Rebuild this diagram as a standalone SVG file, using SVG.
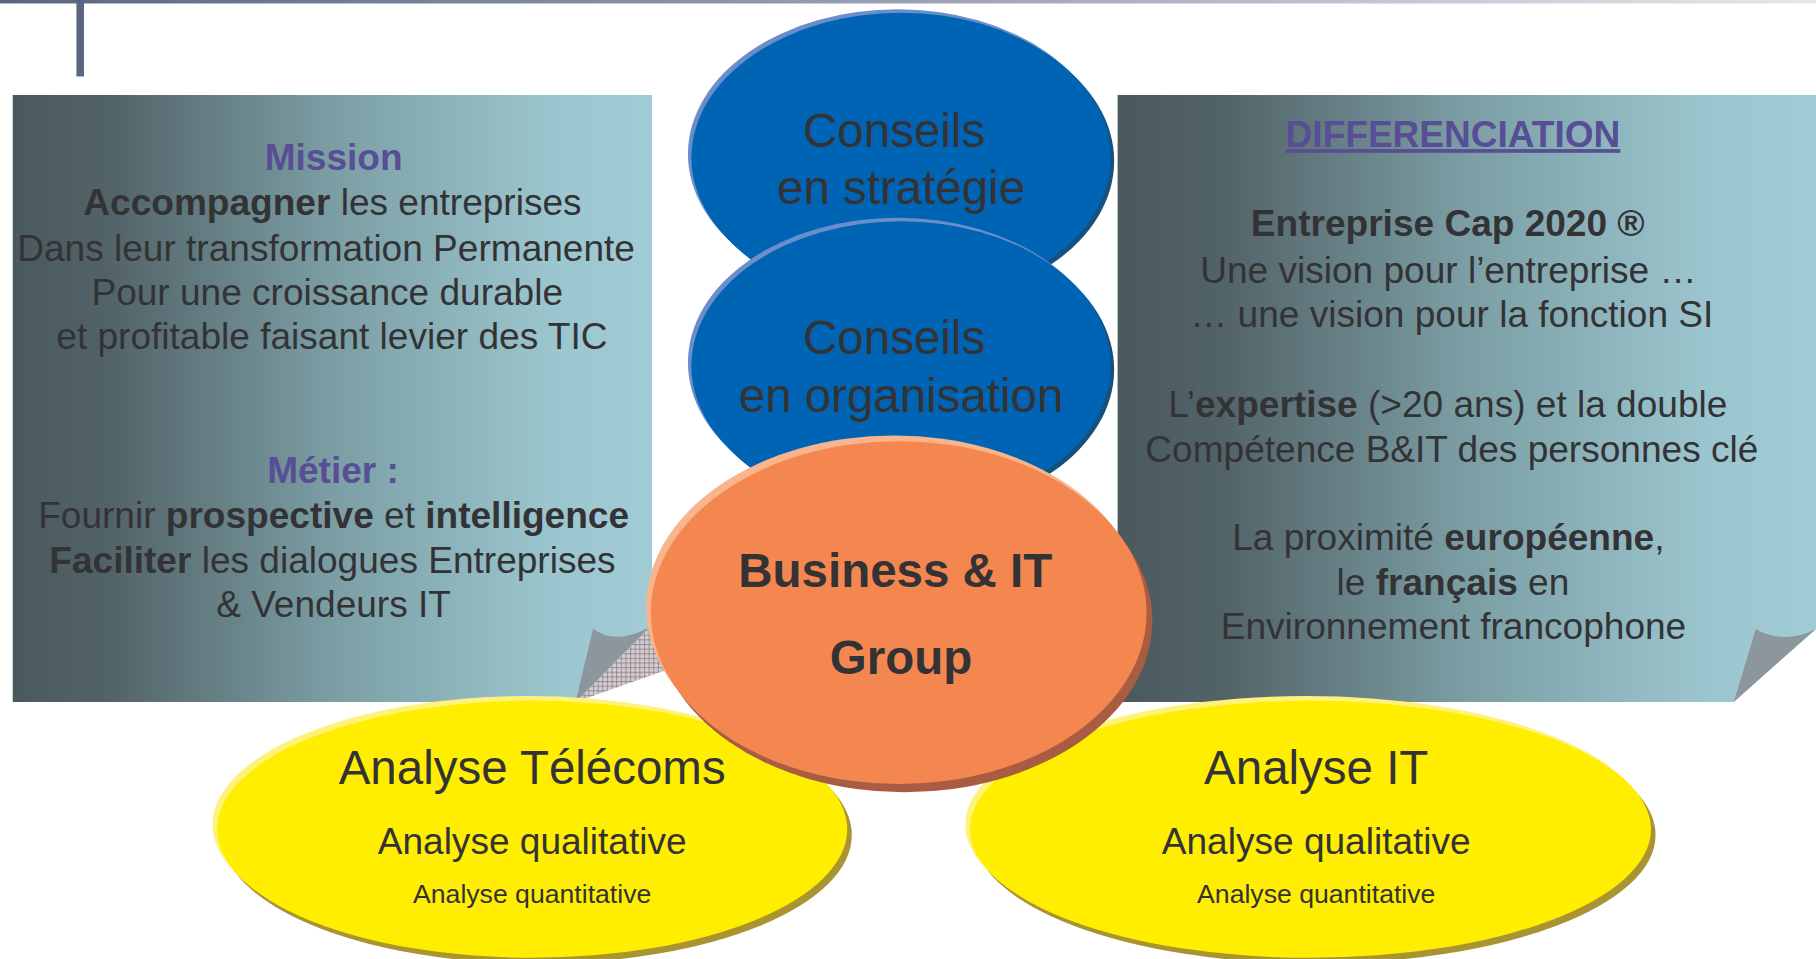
<svg xmlns="http://www.w3.org/2000/svg" width="1816" height="959" viewBox="0 0 1816 959">
<defs>
<style>
.t{font-family:"Liberation Sans",Arial,Helvetica,sans-serif;fill:#333336;text-anchor:middle}
.b{font-weight:bold}
.p{fill:#574e96;font-weight:bold}
.s32{font-size:32px}
.s41{font-size:41px}
.s23{font-size:23px}
</style>
<linearGradient id="panelGrad" x1="0" y1="0" x2="1" y2="0">
<stop offset="0" stop-color="#4a595e"/>
<stop offset="0.15" stop-color="#526368"/>
<stop offset="0.5" stop-color="#7b9ea4"/>
<stop offset="0.85" stop-color="#9cc6cf"/>
<stop offset="1" stop-color="#a2ccd5"/>
</linearGradient>
<linearGradient id="ruleGrad" x1="0" y1="0" x2="1" y2="0">
<stop offset="0" stop-color="#5b6582"/>
<stop offset="0.5" stop-color="#9aa0b4"/>
<stop offset="1" stop-color="#e6e7ec"/>
</linearGradient>
<pattern id="hatch" width="4" height="4" patternUnits="userSpaceOnUse">
<rect width="4" height="4" fill="#d4cdd0"/>
<path d="M0 0.5H4M0.5 0V4" stroke="#8c7d84" stroke-width="0.7"/>
</pattern>
</defs>
<rect width="1816" height="959" fill="#ffffff"/>
<g transform="scale(1.15816 1.15821)">
<g id="top-rule">
<rect x="0" y="0" width="1568" height="3" fill="url(#ruleGrad)"/>
<rect x="66" y="0" width="6.5" height="66" fill="#5b6582"/>
</g>

<g id="panel-mission">
<path d="M11 82H563V540L497 606H11Z" fill="url(#panelGrad)"/>
<path d="M497 606L560 542L625 518L625 561Z" fill="url(#hatch)"/>
<path d="M497 606L512 543Q532 557 560 542Z" fill="#8b979c"/>
<text class="t s32"><tspan class="p" x="292.5" y="147">Mission</tspan>
<tspan x="291.5" y="186"><tspan class="b">Accompagner</tspan> les entreprises</tspan>
<tspan x="286" y="225">Dans leur transformation Permanente</tspan>
<tspan x="287" y="263">Pour une croissance durable</tspan>
<tspan x="291" y="301">et profitable faisant levier des TIC</tspan>
<tspan class="p" x="292" y="417">Métier :</tspan>
<tspan x="292.5" y="456">Fournir <tspan class="b">prospective</tspan> et <tspan class="b">intelligence</tspan></tspan>
<tspan x="291.5" y="495"><tspan class="b">Faciliter</tspan> les dialogues Entreprises</tspan>
<tspan x="288" y="533">&amp; Vendeurs IT</tspan></text>
</g>

<g id="panel-differenciation">
<path d="M965 82H1568V543L1497 606H965Z" fill="url(#panelGrad)"/>
<path d="M1497 606L1516 543Q1540 557 1568 543Z" fill="#8b979c"/>
<text class="t s32"><tspan class="p" x="1259" y="127" text-decoration="underline">DIFFERENCIATION</tspan>
<tspan class="b" x="1254.5" y="204">Entreprise Cap 2020 ®</tspan>
<tspan x="1255" y="244">Une vision pour l’entreprise …</tspan>
<tspan x="1258" y="282">… une vision pour la fonction SI</tspan>
<tspan x="1254.5" y="360">L’<tspan class="b">expertise</tspan> (&gt;20 ans) et la double</tspan>
<tspan x="1258" y="399">Compétence B&amp;IT des personnes clé</tspan>
<tspan x="1255" y="475">La proximité <tspan class="b">européenne</tspan>,</tspan>
<tspan x="1259" y="514">le <tspan class="b">français</tspan> en</tspan>
<tspan x="1255" y="552">Environnement francophone</tspan></text>
</g>

<g id="connectors"></g>

<g id="node-analyse-telecoms">
<ellipse cx="463.5" cy="721" rx="272" ry="111" fill="#a99432"/>
<ellipse cx="455.5" cy="712" rx="272" ry="111" fill="#fff27a"/>
<ellipse cx="459.5" cy="716" rx="272" ry="111" fill="#ffee00"/>
<text class="t s41" x="459.5" y="677">Analyse Télécoms</text>
<text class="t s32" x="459.5" y="737">Analyse qualitative</text>
<text class="t s23" x="459.5" y="780">Analyse quantitative</text>
</g>

<g id="node-analyse-it">
<ellipse cx="1135.5" cy="721" rx="294" ry="111" fill="#a99432"/>
<ellipse cx="1127.5" cy="712" rx="294" ry="111" fill="#fff27a"/>
<ellipse cx="1131.5" cy="716" rx="294" ry="111" fill="#ffee00"/>
<text class="t s41" x="1136.5" y="677">Analyse IT</text>
<text class="t s32" x="1136.5" y="737">Analyse qualitative</text>
<text class="t s23" x="1136.5" y="780">Analyse quantitative</text>
</g>

<g id="node-strategie">
<ellipse cx="781" cy="139" rx="181" ry="125" fill="#17507f"/>
<ellipse cx="775" cy="133" rx="181" ry="125" fill="#6a8dcb"/>
<ellipse cx="778" cy="136" rx="181" ry="125" fill="#0064b4"/>
<text class="t s41"><tspan x="772" y="127">Conseils</tspan><tspan x="778" y="176">en stratégie</tspan></text>
</g>

<g id="node-organisation">
<ellipse cx="781" cy="319" rx="181" ry="125" fill="#17507f"/>
<ellipse cx="775" cy="313" rx="181" ry="125" fill="#6a8dcb"/>
<ellipse cx="778" cy="316" rx="181" ry="125" fill="#0064b4"/>
<text class="t s41"><tspan x="772" y="306">Conseils</tspan><tspan x="778" y="356">en organisation</tspan></text>
</g>

<g id="node-business-it">
<ellipse cx="781" cy="536" rx="214" ry="148" fill="#a85c42"/>
<ellipse cx="772" cy="524" rx="214" ry="148" fill="#f8b48d"/>
<ellipse cx="776" cy="529" rx="214" ry="148" fill="#f4874f"/>
<text class="t s41 b"><tspan x="773" y="507">Business &amp; IT</tspan><tspan x="778" y="582">Group</tspan></text>
</g>
</g>
</svg>
